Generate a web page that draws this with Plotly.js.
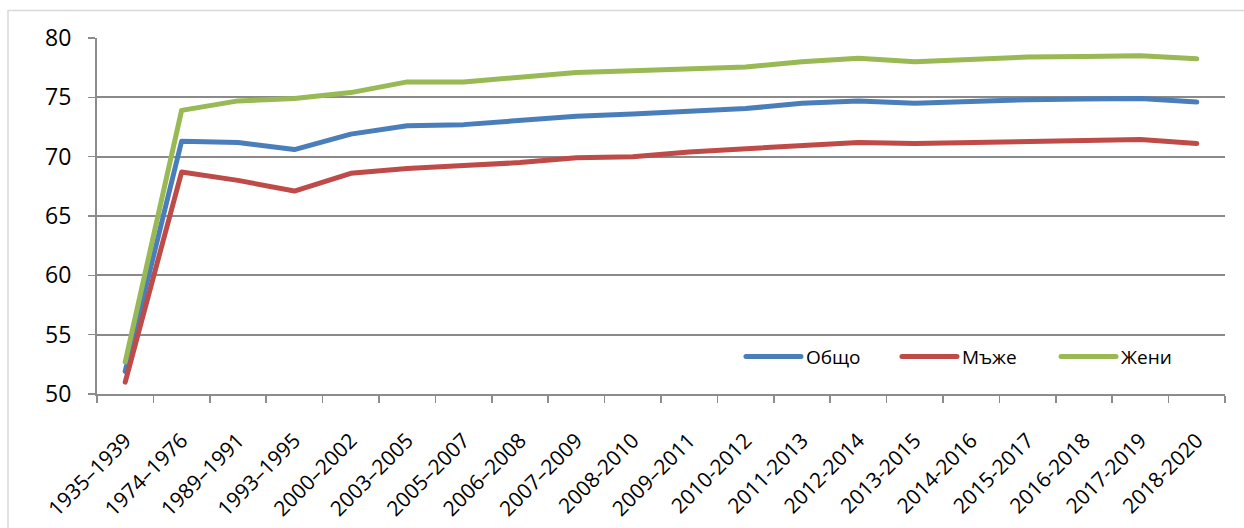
<!DOCTYPE html>
<html>
<head>
<meta charset="utf-8">
<script src="https://cdn.plot.ly/plotly-3.0.1.min.js"></script>
<style>
  html, body { margin: 0; padding: 0; background: #fff; }
  #chart { width: 1244px; height: 528px; }
  .scatterlayer path.js-line, .legendlines path { stroke-linecap: round; stroke-linejoin: round; }
</style>
</head>
<body>
<div id="chart"></div>
<script>
const periods = ["1935–1939","1974–1976","1989–1991","1993–1995","2000–2002","2003–2005","2005–2007","2006–2008","2007–2009","2008-2010","2009–2011","2010-2012","2011-2013","2012-2014","2013-2015","2014-2016","2015-2017","2016-2018","2017-2019","2018-2020"];
const total = [51.9, 71.3, 71.2, 70.6, 71.9, 72.6, 72.7, 73.05, 73.4, 73.6, 73.85, 74.05, 74.5, 74.7, 74.5, 74.7, 74.8, 74.85, 74.9, 74.6];
const men   = [51.0, 68.7, 68.0, 67.1, 68.6, 69.0, 69.25, 69.5, 69.9, 70.0, 70.4, 70.65, 71.0, 71.2, 71.1, 71.2, 71.3, 71.38, 71.45, 71.1];
const women = [52.7, 73.9, 74.7, 74.9, 75.4, 76.3, 76.3, 76.7, 77.1, 77.25, 77.4, 77.55, 78.0, 78.3, 78.0, 78.2, 78.4, 78.45, 78.5, 78.25];
const names = ["Общо", "Мъже", "Жени"];
const colors = ["#4A7EBB", "#BE4B48", "#98B954"];

const series = [total, men, women];
const legendIds = ["legend", "legend2", "legend3"];
const traces = series.map((vals, i) => ({
  x: periods, y: vals, name: names[i], type: "scatter", mode: "lines",
  line: { color: colors[i], width: 5 }, legend: legendIds[i]
}));

const font = "'Open Sans', 'Noto Sans', sans-serif";
function leg(x) {
  return {
    orientation: "h", x: x, xanchor: "left", y: 0.105, yanchor: "middle",
    font: { family: font, size: 19, color: "#000" },
    bgcolor: "rgba(0,0,0,0)", itemwidth: 55
  };
}
const layout = {
  width: 1244, height: 528,
  margin: { l: 97, r: 19, t: 38, b: 134, autoexpand: false },
  paper_bgcolor: "#fff", plot_bgcolor: "#fff",
  font: { family: font, size: 20, color: "#000" },
  showlegend: true,
  legend: leg(0.5709),
  legend2: leg(0.7092),
  legend3: leg(0.8502),
  xaxis: {
    type: "category", range: [-0.5, 19.5], tickson: "boundaries",
    ticks: "outside", ticklen: 7, tickcolor: "#8c8c8c", tickwidth: 1.5,
    showline: true, linecolor: "#8c8c8c", linewidth: 2,
    showgrid: false, tickangle: -45, ticklabelstandoff: 24, automargin: false,
    tickfont: { family: font, size: 21, color: "#000" }, fixedrange: true
  },
  yaxis: {
    range: [50, 80], dtick: 5, tick0: 50,
    ticks: "outside", ticklen: 7, tickcolor: "#8c8c8c", tickwidth: 1.5,
    showline: true, linecolor: "#8c8c8c", linewidth: 2,
    showgrid: true, gridcolor: "#8a8a8a", gridwidth: 2, zeroline: false,
    ticklabelstandoff: 12, automargin: false,
    tickfont: { family: font, size: 23, color: "#000" }, fixedrange: true
  },
  shapes: [{
    type: "rect", xref: "paper", yref: "paper",
    x0: -0.0789, x1: 1.05, y0: -0.6, y1: 1.077,
    line: { color: "#d9d9d9", width: 1.5 }, fillcolor: "rgba(0,0,0,0)", layer: "below"
  }]
};

Plotly.newPlot("chart", traces, layout, { displayModeBar: false, staticPlot: true });
</script>
</body>
</html>
